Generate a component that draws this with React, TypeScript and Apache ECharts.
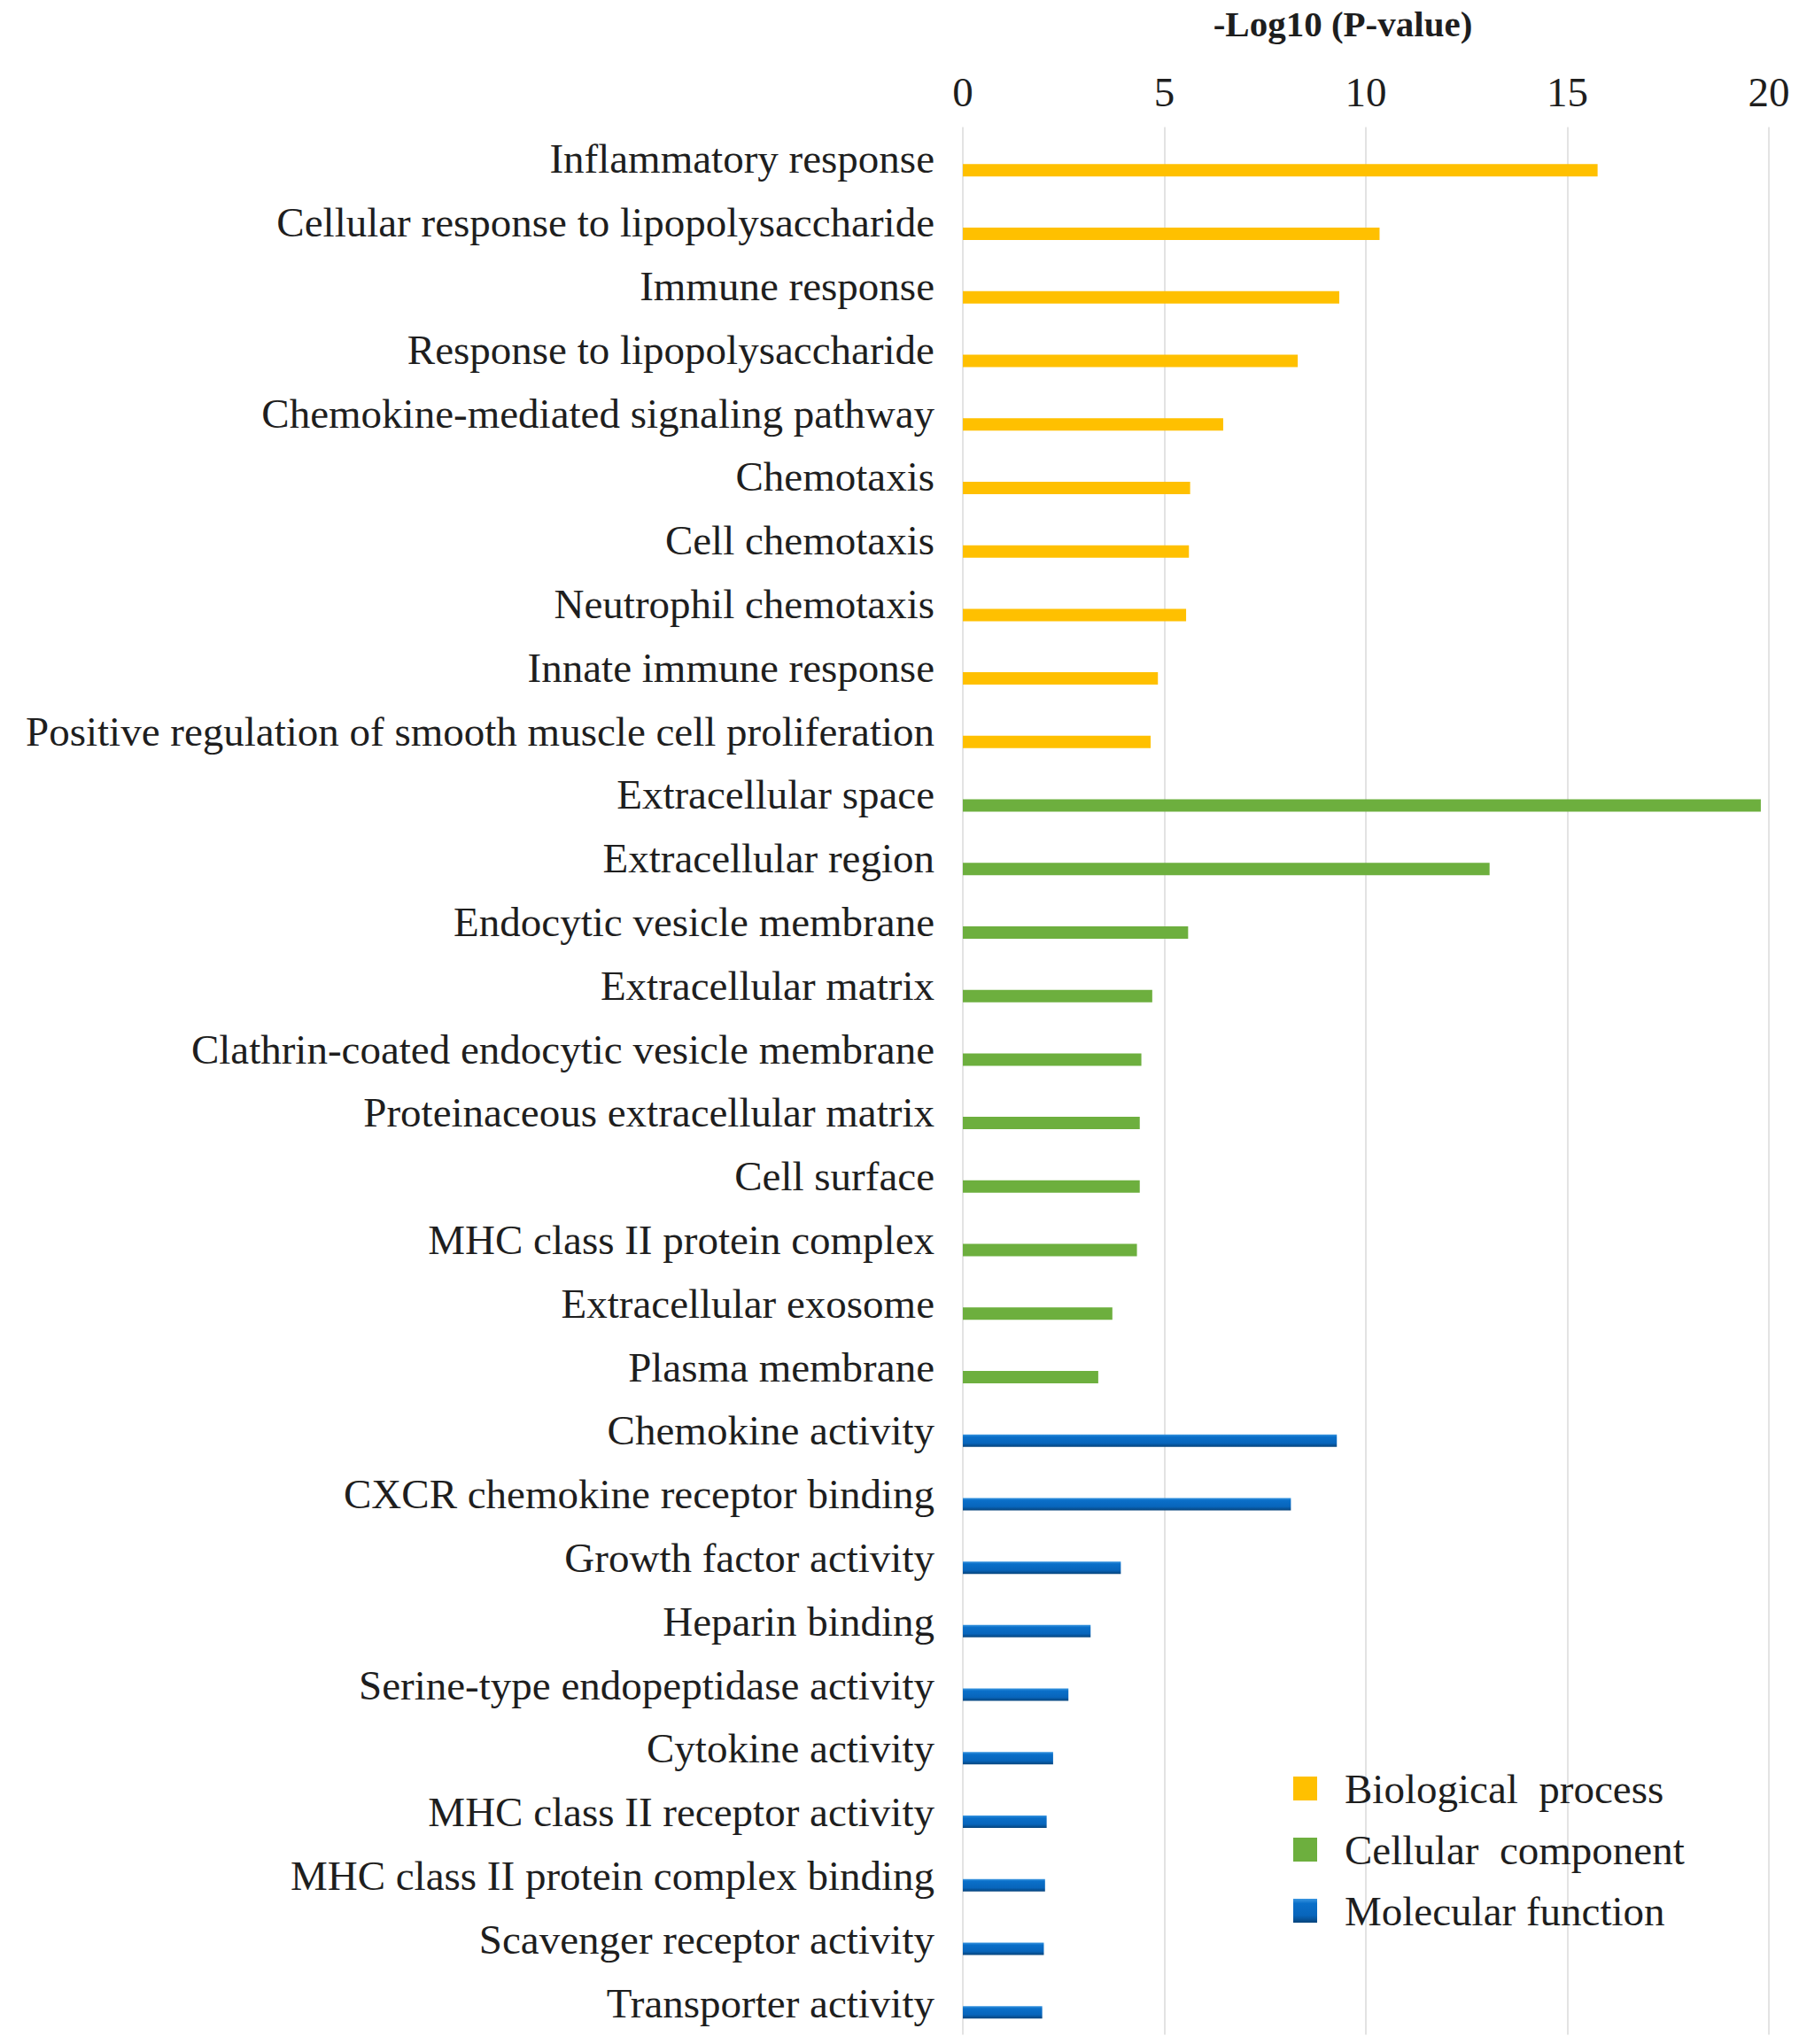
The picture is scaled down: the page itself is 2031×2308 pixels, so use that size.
import React, { useEffect, useRef } from "react";
import * as echarts from "echarts";

const bpTerms = [
  "Inflammatory response",
  "Cellular response to lipopolysaccharide",
  "Immune response",
  "Response to lipopolysaccharide",
  "Chemokine-mediated signaling pathway",
  "Chemotaxis",
  "Cell chemotaxis",
  "Neutrophil chemotaxis",
  "Innate immune response",
  "Positive regulation of smooth muscle cell proliferation",
];
const bpValues = [15.75, 10.34, 9.34, 8.31, 6.46, 5.64, 5.61, 5.54, 4.84, 4.66];

const ccTerms = [
  "Extracellular space",
  "Extracellular region",
  "Endocytic vesicle membrane",
  "Extracellular matrix",
  "Clathrin-coated endocytic vesicle membrane",
  "Proteinaceous extracellular matrix",
  "Cell surface",
  "MHC class II protein complex",
  "Extracellular exosome",
  "Plasma membrane",
];
const ccValues = [19.8, 13.07, 5.59, 4.7, 4.43, 4.39, 4.39, 4.32, 3.71, 3.36];

const mfTerms = [
  "Chemokine activity",
  "CXCR chemokine receptor binding",
  "Growth factor activity",
  "Heparin binding",
  "Serine-type endopeptidase activity",
  "Cytokine activity",
  "MHC class II receptor activity",
  "MHC class II protein complex binding",
  "Scavenger receptor activity",
  "Transporter activity",
];
const mfValues = [9.28, 8.14, 3.92, 3.17, 2.62, 2.24, 2.08, 2.04, 2.01, 1.97];

const groupNames = ["Biological  process", "Cellular  component", "Molecular function"];
const axisTitle = "-Log10 (P-value)";

const FONT = "'Liberation Serif', 'Times New Roman', serif";
const TEXT = "#1e1e1e";

export default function App() {
  const ref = useRef<HTMLDivElement>(null);
  useEffect(() => {
    document.body.style.margin = "0";
    const chart = echarts.init(ref.current!, null, { renderer: "svg" });
    const categories = [...bpTerms, ...ccTerms, ...mfTerms];
    const pad = (vals: number[], start: number) =>
      categories.map((_, i) => (i >= start && i < start + vals.length ? vals[i - start] : "-"));

    const gridLeft = 1087;
    const gridRight = 34;
    const gridTop = 143.5;
    const gridHeight = 2154;
    const barShift = 13;

    const colors = [
      "#FFC000",
      "#6DAF3E",
      new echarts.graphic.LinearGradient(0, 0, 0, 1, [
        { offset: 0, color: "#3a96e0" },
        { offset: 0.2, color: "#0a6fc9" },
        { offset: 0.7, color: "#0865bb" },
        { offset: 1, color: "#06447c" },
      ]),
    ];

    const option: any = {
      animation: false,
      backgroundColor: "#ffffff",
      graphic: [
        {
          type: "text",
          x: 1516,
          y: 27,
          style: {
            text: axisTitle,
            font: `bold 41px ${FONT}`,
            fill: TEXT,
            textAlign: "center",
            textVerticalAlign: "middle",
            verticalAlign: "middle",
          },
        },
      ],
      legend: {
        orient: "vertical",
        left: 1455,
        top: 1991,
        icon: "rect",
        itemWidth: 27,
        itemHeight: 27,
        itemGap: 22,
        data: groupNames,
        textStyle: {
          fontFamily: FONT,
          fontSize: 47,
          color: TEXT,
          lineHeight: 40,
          padding: [0, 0, 0, 26],
        },
      },
      grid: [
        { left: gridLeft, right: gridRight, top: gridTop, height: gridHeight },
        { left: gridLeft, right: gridRight, top: gridTop + barShift, height: gridHeight },
      ],
      xAxis: [
        {
          type: "value",
          gridIndex: 0,
          position: "top",
          min: 0,
          max: 20,
          interval: 5,
          axisLine: { show: false },
          axisTick: { show: false },
          splitLine: { show: true, lineStyle: { color: "#e3e3e3", width: 2 } },
          axisLabel: { fontFamily: FONT, fontSize: 47, color: TEXT, margin: 16 },
        },
        {
          type: "value",
          gridIndex: 1,
          min: 0,
          max: 20,
          show: false,
          splitLine: { show: false },
        },
      ],
      yAxis: [
        {
          type: "category",
          gridIndex: 0,
          inverse: true,
          data: categories,
          axisLine: { show: false },
          axisTick: { show: false },
          axisLabel: {
            fontFamily: FONT,
            fontSize: 47,
            color: TEXT,
            margin: 32,
            interval: 0,
          },
        },
        {
          type: "category",
          gridIndex: 1,
          inverse: true,
          data: categories,
          show: false,
        },
      ],
      series: groupNames.map((name, gi) => ({
        name,
        type: "bar",
        xAxisIndex: 1,
        yAxisIndex: 1,
        stack: "all",
        barWidth: 14,
        itemStyle: { color: colors[gi] },
        data: pad([bpValues, ccValues, mfValues][gi], gi * 10),
      })),
    };
    chart.setOption(option);
    return () => chart.dispose();
  }, []);
  return <div ref={ref} style={{ width: 2031, height: 2308 }} />;
}
